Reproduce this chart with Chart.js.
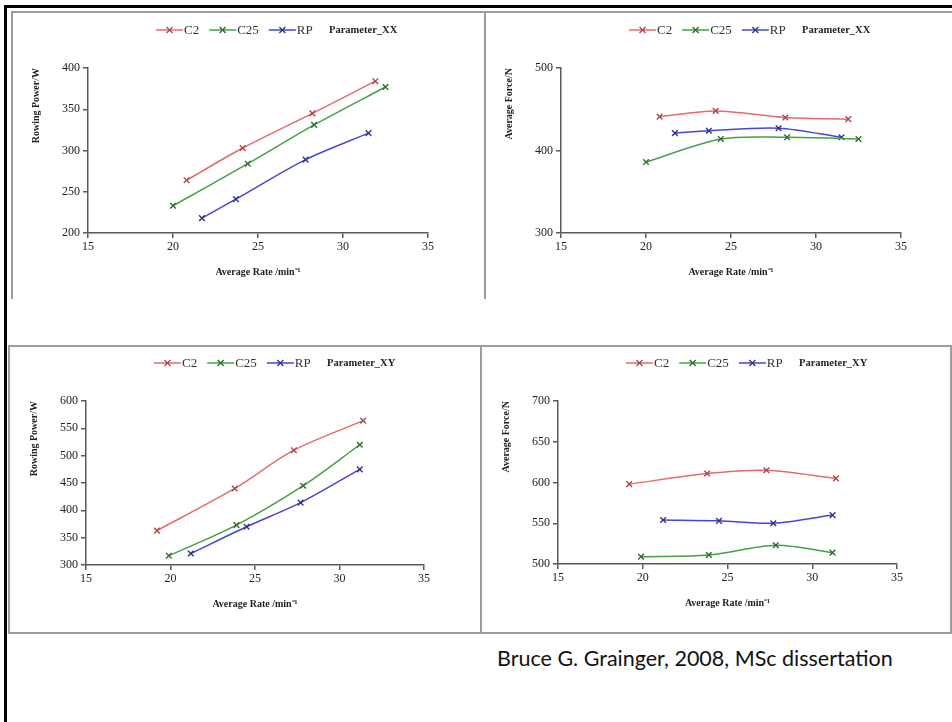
<!DOCTYPE html>
<html>
<head>
<meta charset="utf-8">
<script src="https://cdn.jsdelivr.net/npm/chart.js@4.4.1/dist/chart.umd.min.js"></script>
<style>
  html, body { margin: 0; padding: 0; background: #fff; }
  body { width: 952px; height: 722px; position: relative; overflow: hidden; }
  .rule { position: absolute; background: #000; }
  .panel { position: absolute; box-sizing: border-box; border: 0 solid #9c9c9c; }
  canvas { position: absolute; }
  .credit {
    position: absolute; left: 497px; top: 645px;
    font-family: Lato, "Open Sans", sans-serif; font-size: 21.5px;
    color: #111; white-space: nowrap;
  }
</style>
</head>
<body>
<div class="rule" style="left:4px; top:5px; width:948px; height:3px;"></div>
<div class="rule" style="left:4px; top:5px; width:3px; height:717px;"></div>

<div class="panel" style="left:11px; top:11px; width:475px; height:288px; border-width:2px 2px 0 2px;"></div>
<div class="panel" style="left:484px; top:11px; width:470px; height:288px; border-width:2px 0 0 0;"></div>
<div class="panel" style="left:8px; top:345px; width:474px; height:289px; border-width:2px;"></div>
<div class="panel" style="left:480px; top:345px; width:472px; height:289px; border-width:2px 2px 2px 0;"></div>

<canvas id="xxPower"></canvas>
<canvas id="xxForce"></canvas>
<canvas id="xyPower"></canvas>
<canvas id="xyForce"></canvas>

<div class="credit">Bruce G. Grainger, 2008, MSc dissertation</div>

<script>
const SERIES_NAMES = ['C2', 'C25', 'RP'];
const RATE_TICKS = [15, 20, 25, 30, 35];
const RATE_TITLE = 'Average Rate /min\u207B\u00B9';
const POWER_TITLE = 'Rowing Power/W';
const FORCE_TITLE = 'Average Force/N';

// Parameter_XX stroke rates
const xxC2Rate = [20.8, 24.1, 28.2, 31.9];
const xxC25Rate = [20.0, 24.4, 28.3, 32.5];
const xxRpRate = [21.7, 23.7, 27.8, 31.5];

const xxC2Power = [264, 303, 345, 384];
const xxC25Power = [233, 284, 331, 377];
const xxRpPower = [218, 241, 289, 321];

const xxC2Force = [441, 448, 440, 438];
const xxC25Force = [386, 414, 416, 414];
const xxRpForce = [421, 424, 427, 416];

// Parameter_XY stroke rates
const xyC2Rate = [19.2, 23.8, 27.3, 31.4];
const xyC25Rate = [19.9, 23.9, 27.85, 31.2];
const xyRpRate = [21.2, 24.5, 27.7, 31.2];

const xyC2Power = [363, 440, 510, 564];
const xyC25Power = [317, 373, 445, 520];
const xyRpPower = [321, 370, 414, 475];

const xyC2Force = [598, 611, 615, 605];
const xyC25Force = [509, 511, 523, 514];
const xyRpForce = [554, 553, 550, 560];

const xxPowerTicks = [200, 250, 300, 350, 400];
const xxForceTicks = [300, 400, 500];
const xyPowerTicks = [300, 350, 400, 450, 500, 550, 600];
const xyForceTicks = [500, 550, 600, 650, 700];

const LINE_COLORS = ['#e66a6c', '#45a045', '#4646d6'];
const MARK_COLORS = ['#a84848', '#2f6a2f', '#34347e'];

const SERIF = '"Liberation Serif", "Times New Roman", serif';
const AXIS_GREY = '#5a5a5a';

// plot box sizes around the chart area
const PAD_LEFT = 74;
const PAD_TOP = 55;
const PAD_RIGHT = 52;
const PAD_BOTTOM = 66;

function drawCross(ctx, x, y, r) {
  ctx.beginPath();
  ctx.moveTo(x - r, y - r);
  ctx.lineTo(x + r, y + r);
  ctx.moveTo(x - r, y + r);
  ctx.lineTo(x + r, y - r);
  ctx.stroke();
}

// Excel-like key: short line with marker, series name, then parameter tag
const seriesKey = {
  id: 'seriesKey',
  afterDraw(chart, args, opts) {
    const { ctx, chartArea } = chart;
    const y = chartArea.top - 38;
    let x = chartArea.left + 68;
    const start = x;
    ctx.save();
    ctx.textBaseline = 'middle';
    ctx.font = `13px ${SERIF}`;
    chart.data.datasets.forEach((ds) => {
      ctx.strokeStyle = ds.borderColor;
      ctx.lineWidth = 1.5;
      ctx.beginPath();
      ctx.moveTo(x, y);
      ctx.lineTo(x + 27, y);
      ctx.stroke();
      ctx.strokeStyle = ds.pointBorderColor;
      ctx.lineWidth = 1.3;
      drawCross(ctx, x + 13.5, y, 3);
      ctx.fillStyle = '#333';
      ctx.fillText(ds.label, x + 28, y + 1);
      x += 28 + ctx.measureText(ds.label).width + 10;
    });
    ctx.font = `bold 10.5px ${SERIF}`;
    ctx.fillStyle = '#222';
    ctx.fillText(opts.tag, start + 173, y);
    ctx.restore();
  },
};

function series(rates, values, i) {
  return {
    label: SERIES_NAMES[i],
    data: rates.map((x, k) => ({ x, y: values[k] })),
    borderColor: LINE_COLORS[i],
    borderWidth: 1.5,
    pointStyle: 'crossRot',
    pointRadius: 4,
    pointBorderWidth: 1.4,
    pointBorderColor: MARK_COLORS[i],
    pointBackgroundColor: MARK_COLORS[i],
    tension: 0.3,
    fill: false,
  };
}

function makeChart(id, area, tag, yTitle, yTicks, datasets) {
  const canvas = document.getElementById(id);
  const width = area.width + PAD_LEFT + PAD_RIGHT;
  const height = area.height + PAD_TOP + PAD_BOTTOM;
  canvas.style.left = (area.left - PAD_LEFT) + 'px';
  canvas.style.top = (area.top - PAD_TOP) + 'px';
  canvas.style.width = width + 'px';
  canvas.style.height = height + 'px';
  canvas.width = width;
  canvas.height = height;

  const yMin = yTicks[0];
  const yMax = yTicks[yTicks.length - 1];

  return new Chart(canvas.getContext('2d'), {
    type: 'line',
    data: { datasets },
    plugins: [seriesKey],
    options: {
      responsive: false,
      animation: false,
      events: [],
      layout: { padding: { left: 0, top: PAD_TOP, right: PAD_RIGHT, bottom: 0 } },
      plugins: {
        legend: { display: false },
        tooltip: { enabled: false },
        seriesKey: { tag },
      },
      scales: {
        x: {
          type: 'linear',
          min: RATE_TICKS[0],
          max: RATE_TICKS[RATE_TICKS.length - 1],
          afterBuildTicks: (scale) => { scale.ticks = RATE_TICKS.map((v) => ({ value: v })); },
          afterFit: (scale) => { scale.height = PAD_BOTTOM; },
          border: { display: true, color: AXIS_GREY, width: 1.5 },
          grid: { drawOnChartArea: false, drawTicks: true, tickLength: 5, color: AXIS_GREY, lineWidth: 1.5 },
          ticks: { color: '#222', padding: 2, maxRotation: 0, font: { family: SERIF, size: 12 } },
          title: {
            display: true,
            text: RATE_TITLE,
            color: '#222',
            font: { family: SERIF, size: 10, weight: 'bold' },
            padding: { top: 0, bottom: 21 },
          },
        },
        y: {
          min: yMin,
          max: yMax,
          afterBuildTicks: (scale) => { scale.ticks = yTicks.map((v) => ({ value: v })); },
          afterFit: (scale) => { scale.width = PAD_LEFT; },
          border: { display: true, color: AXIS_GREY, width: 1.5 },
          grid: { drawOnChartArea: false, drawTicks: true, tickLength: 5, color: AXIS_GREY, lineWidth: 1.5 },
          ticks: { color: '#222', padding: 3, font: { family: SERIF, size: 12 } },
          title: {
            display: true,
            text: yTitle,
            align: 'end',
            color: '#222',
            font: { family: SERIF, size: 10, weight: 'bold' },
            padding: { top: 16, bottom: 0 },
          },
        },
      },
    },
  });
}

makeChart('xxPower', { left: 88, top: 68, width: 340, height: 165 }, 'Parameter_XX', POWER_TITLE, xxPowerTicks, [
  series(xxC2Rate, xxC2Power, 0),
  series(xxC25Rate, xxC25Power, 1),
  series(xxRpRate, xxRpPower, 2),
]);

makeChart('xxForce', { left: 561, top: 68, width: 340, height: 165 }, 'Parameter_XX', FORCE_TITLE, xxForceTicks, [
  series(xxC2Rate, xxC2Force, 0),
  series(xxC25Rate, xxC25Force, 1),
  series(xxRpRate, xxRpForce, 2),
]);

makeChart('xyPower', { left: 86, top: 401, width: 338, height: 164 }, 'Parameter_XY', POWER_TITLE, xyPowerTicks, [
  series(xyC2Rate, xyC2Power, 0),
  series(xyC25Rate, xyC25Power, 1),
  series(xyRpRate, xyRpPower, 2),
]);

makeChart('xyForce', { left: 558, top: 401, width: 339, height: 163 }, 'Parameter_XY', FORCE_TITLE, xyForceTicks, [
  series(xyC2Rate, xyC2Force, 0),
  series(xyC25Rate, xyC25Force, 1),
  series(xyRpRate, xyRpForce, 2),
]);
</script>
</body>
</html>
